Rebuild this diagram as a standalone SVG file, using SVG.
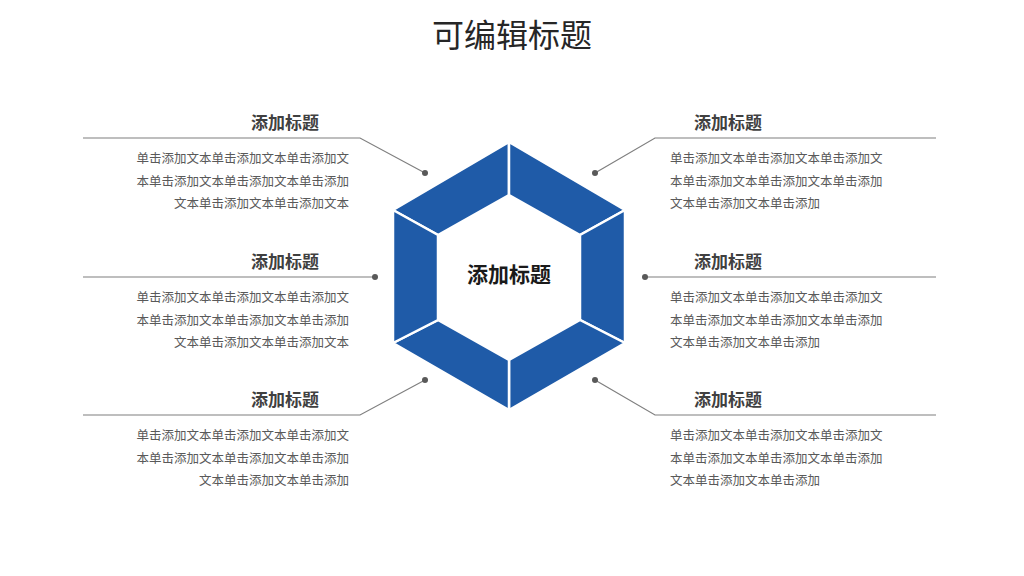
<svg xmlns="http://www.w3.org/2000/svg" width="1024" height="576" viewBox="0 0 1024 576">
<style>
text{font-family:"Noto Sans CJK SC","Liberation Sans",sans-serif}
.t{font-size:17px;font-weight:bold;fill:#404040;text-anchor:middle}
.b{font-size:12.5px;fill:#595959}
.l{text-anchor:end}
.seg{fill:#1F5BA8;stroke:#fff;stroke-width:2.5;stroke-linejoin:miter}
.c{fill:none;stroke:#7f7f7f;stroke-width:1.2}
.d{fill:#595959}
</style>
<rect width="1024" height="576" fill="#fff"/>
<text x="512" y="47" style="font-size:32px;fill:#262626;text-anchor:middle">可编辑标题</text>
<g id="hexagon">
<polygon class="seg" points="509,142 509,195 438,235 393,210"/>
<polygon class="seg" points="509,142 625,210 580,235 509,195"/>
<polygon class="seg" points="625,210 625,343 580,320 580,235"/>
<polygon class="seg" points="625,343 509,410 509,360 580,320"/>
<polygon class="seg" points="509,410 393,343 438,320 509,360"/>
<polygon class="seg" points="393,343 393,210 438,235 438,320"/>
<text x="509" y="282" style="font-size:21px;font-weight:bold;fill:#1a1a1a;text-anchor:middle">添加标题</text>
</g>
<g id="connectors">
<polyline class="c" points="83,138 360,138 425,173"/>
<polyline class="c" points="83,277 375,277"/>
<polyline class="c" points="83,415 360,415 425,380"/>
<polyline class="c" points="936,138 655,138 595,173"/>
<polyline class="c" points="936,277 645,277"/>
<polyline class="c" points="936,415 655,415 595,380"/>
<circle class="d" cx="425" cy="173" r="3"/><circle class="d" cx="375" cy="277" r="3"/><circle class="d" cx="425" cy="380" r="3"/>
<circle class="d" cx="595" cy="173" r="3"/><circle class="d" cx="645" cy="277" r="3"/><circle class="d" cx="595" cy="380" r="3"/>
</g>
<g id="n1"><text class="t" x="285" y="129">添加标题</text>
<text class="b l" x="349" y="163">单击添加文本单击添加文本单击添加文</text>
<text class="b l" x="349" y="186">本单击添加文本单击添加文本单击添加</text>
<text class="b l" x="349" y="208">文本单击添加文本单击添加文本</text></g>
<g id="n2"><text class="t" x="285" y="268">添加标题</text>
<text class="b l" x="349" y="302">单击添加文本单击添加文本单击添加文</text>
<text class="b l" x="349" y="325">本单击添加文本单击添加文本单击添加</text>
<text class="b l" x="349" y="347">文本单击添加文本单击添加文本</text></g>
<g id="n3"><text class="t" x="285" y="406">添加标题</text>
<text class="b l" x="349" y="440">单击添加文本单击添加文本单击添加文</text>
<text class="b l" x="349" y="463">本单击添加文本单击添加文本单击添加</text>
<text class="b l" x="349" y="485">文本单击添加文本单击添加</text></g>
<g id="n4"><text class="t" x="728" y="129">添加标题</text>
<text class="b" x="670" y="163">单击添加文本单击添加文本单击添加文</text>
<text class="b" x="670" y="186">本单击添加文本单击添加文本单击添加</text>
<text class="b" x="670" y="208">文本单击添加文本单击添加</text></g>
<g id="n5"><text class="t" x="728" y="268">添加标题</text>
<text class="b" x="670" y="302">单击添加文本单击添加文本单击添加文</text>
<text class="b" x="670" y="325">本单击添加文本单击添加文本单击添加</text>
<text class="b" x="670" y="347">文本单击添加文本单击添加</text></g>
<g id="n6"><text class="t" x="728" y="406">添加标题</text>
<text class="b" x="670" y="440">单击添加文本单击添加文本单击添加文</text>
<text class="b" x="670" y="463">本单击添加文本单击添加文本单击添加</text>
<text class="b" x="670" y="485">文本单击添加文本单击添加</text></g>
</svg>
